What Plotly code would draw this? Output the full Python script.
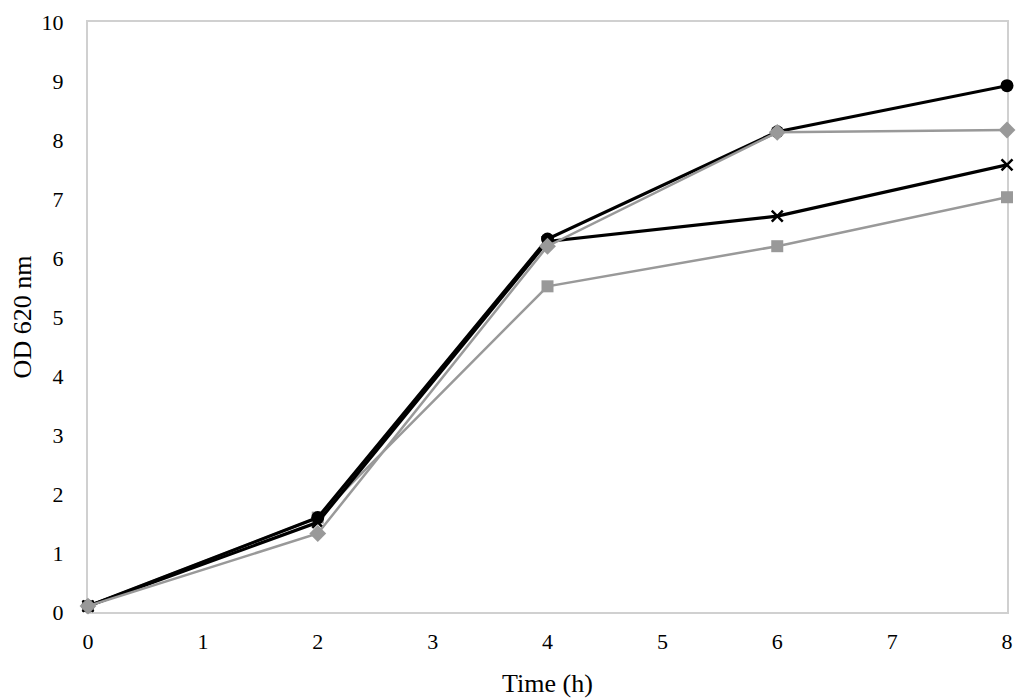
import plotly.graph_objects as go

# tiempos de muestreo (h)
tiempo = [0, 2, 4, 6, 8]

# OD 620 nm por serie
od_circulo = [0.10, 1.60, 6.32, 8.14, 8.92]
od_rombo = [0.10, 1.33, 6.20, 8.13, 8.17]
od_cruz = [0.10, 1.52, 6.28, 6.71, 7.58]
od_cuadrado = [0.10, 1.60, 5.52, 6.20, 7.03]

NEGRO = "#000000"
GRIS = "#999999"

series = [
    ("cuadrado", od_cuadrado, GRIS, "square", 2.5, 12),
    ("cruz", od_cruz, NEGRO, "x-thin", 3.2, 11),
    ("circulo", od_circulo, NEGRO, "circle", 3.2, 13),
    ("rombo", od_rombo, GRIS, "diamond", 2.5, 13),
]

fig = go.Figure()

for nombre, valores, color, simbolo, ancho, tam in series:
    fig.add_trace(go.Scatter(
        x=tiempo,
        y=valores,
        mode="lines+markers",
        name=nombre,
        cliponaxis=False,
        line=dict(color=color, width=ancho),
        marker=dict(
            symbol=simbolo,
            size=tam,
            color=color,
            line=dict(color=color, width=2.5 if simbolo == "x-thin" else 0)
        )
    ))

eje = dict(
    showgrid=False,
    zeroline=False,
    showline=True,
    mirror=True,
    linecolor="#d0d0d0",
    linewidth=2,
    ticks="",
    layer="below traces",
    automargin=False,
    tickfont=dict(family="Liberation Serif", size=22, color="#000000"),
)

# el body del html tiene 8 px de margen: la figura se ajusta a eso
fig.update_layout(
    width=1016,
    height=691,
    margin=dict(l=80, r=17, t=14, b=87),
    paper_bgcolor="white",
    plot_bgcolor="white",
    showlegend=False,
    xaxis=dict(
        eje,
        range=[0, 8],
        dtick=1,
        ticklabelstandoff=9,
        title=dict(text="Time (h)", standoff=20,
                   font=dict(family="Liberation Serif", size=26, color="#000000")),
    ),
    yaxis=dict(
        eje,
        range=[0, 10],
        dtick=1,
        ticklabelstandoff=18,
        title=dict(text="OD 620 nm", standoff=11,
                   font=dict(family="Liberation Serif", size=26, color="#000000")),
    ),
)

fig.write_html("out.html")
